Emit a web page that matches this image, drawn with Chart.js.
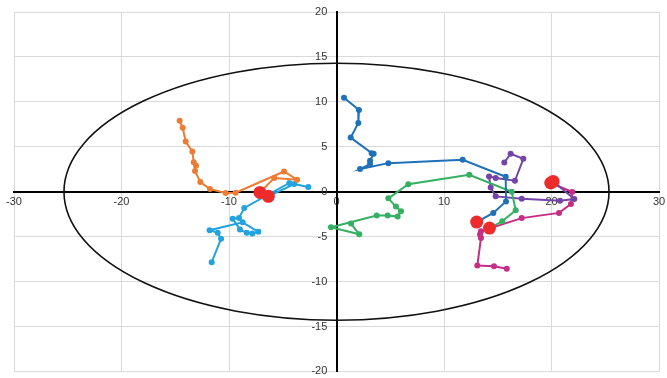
<!DOCTYPE html>
<html>
<head>
<meta charset="utf-8">
<script src="https://cdn.jsdelivr.net/npm/chart.js@4.4.1/dist/chart.umd.min.js"></script>
<style>
html,body{margin:0;padding:0;background:#fff;}
#wrap{width:667px;height:378px;position:relative;}
</style>
</head>
<body>
<div id="wrap"><canvas id="c"></canvas></div>
<script>
// ---- data (x, y) pairs; last point of each trail is the current position ----
const orangeTrail = [[-14.59,7.91],[-14.31,7.13],[-14.03,5.58],[-13.41,4.47],[-13.28,3.29],[-13.07,2.88],[-13.16,2.29],[-12.67,1.08],[-11.77,0.30],[-10.31,-0.14],[-9.38,-0.11],[-4.88,2.25],[-3.67,1.33],[-5.79,1.52],[-7.12,-0.08]];
const lightBlueTrail = [[-11.61,-7.84],[-10.74,-5.25],[-11.05,-4.58],[-11.80,-4.29],[-8.73,-3.41],[-7.27,-4.47],[-7.83,-4.66],[-8.35,-4.58],[-8.98,-4.22],[-9.66,-3.00],[-9.07,-2.92],[-8.58,-1.81],[-4.39,0.97],[-2.62,0.52],[-3.93,0.85],[-6.34,-0.52]];
const darkBlueTrail = [[0.70,10.46],[2.09,9.10],[2.03,7.65],[1.32,6.02],[3.27,4.29],[3.46,4.22],[3.12,3.44],[3.12,3.07],[2.19,2.52],[4.82,3.18],[11.74,3.55],[15.74,1.66],[15.77,-1.08],[14.59,-2.36],[13.04,-3.38]];
const greenTrail = [[1.35,-3.55],[2.12,-4.74],[-0.51,-3.96],[3.74,-2.66],[4.76,-2.66],[5.69,-2.77],[6.00,-2.18],[5.53,-1.66],[4.82,-0.74],[6.68,0.83],[12.35,1.89],[16.30,0.00],[16.67,-2.07],[15.42,-3.29],[14.23,-4.05]];
const purpleTrail = [[15.61,3.25],[16.20,4.22],[17.38,3.66],[16.60,1.22],[14.81,1.52],[14.19,1.70],[14.34,0.48],[14.81,-0.52],[17.23,-0.78],[20.79,-1.00],[22.12,-0.81],[20.15,1.14]];
const magentaTrail = [[15.84,-8.57],[14.65,-8.29],[13.10,-8.21],[13.44,-5.14],[13.35,-4.77],[13.44,-4.41],[17.23,-2.94],[20.70,-2.36],[21.81,-1.37],[21.93,-0.03],[19.93,0.97]];

const xTicks = [-30,-20,-10,0,10,20,30];
const yTicks = [-20,-15,-10,-5,0,5,10,15,20];
const ellipseCenter = [0, 0];
const ellipseRadii = [25.35, 14.3];

const series = [
  {data: orangeTrail, color: '#EC7C34'},
  {data: lightBlueTrail, color: '#22A3DE'},
  {data: darkBlueTrail, color: '#1F71B7'},
  {data: greenTrail, color: '#35B063'},
  {data: purpleTrail, color: '#7444A6'},
  {data: magentaTrail, color: '#C62D86'}
];

const toPts = arr => arr.map(p => ({x: p[0], y: p[1]}));

const datasets = [{
  label: 'current',
  data: series.map(s => { const p = s.data[s.data.length - 1]; return {x: p[0], y: p[1]}; }),
  showLine: false,
  pointRadius: 6.5,
  pointHoverRadius: 6.5,
  pointBackgroundColor: '#EE2B2B',
  pointBorderColor: '#EE2B2B',
  pointBorderWidth: 0,
  order: -1
}].concat(series.map(s => ({
  label: '',
  data: toPts(s.data),
  showLine: true,
  borderColor: s.color,
  backgroundColor: s.color,
  borderWidth: 2,
  pointRadius: 3,
  pointBackgroundColor: s.color,
  pointBorderColor: s.color,
  pointBorderWidth: 0,
  tension: 0
})));

const ellipsePlugin = {
  id: 'ellipse',
  beforeDatasetsDraw(chart) {
    const {ctx, scales: {x, y}} = chart;
    const cx = x.getPixelForValue(ellipseCenter[0]);
    const cy = y.getPixelForValue(ellipseCenter[1]);
    const rx = Math.abs(x.getPixelForValue(ellipseCenter[0] + ellipseRadii[0]) - cx);
    const ry = Math.abs(y.getPixelForValue(ellipseCenter[1] + ellipseRadii[1]) - cy);
    ctx.save();
    ctx.beginPath();
    ctx.ellipse(cx, cy, rx, ry, 0, 0, Math.PI * 2);
    ctx.strokeStyle = '#111';
    ctx.lineWidth = 1.6;
    ctx.stroke();
    ctx.restore();
  }
};

const tickFont = {family: "'Liberation Sans', Arial, sans-serif", size: 11};

new Chart(document.getElementById('c'), {
  type: 'scatter',
  data: {datasets},
  plugins: [ellipsePlugin],
  options: {
    responsive: true,
    maintainAspectRatio: false,
    animation: false,
    layout: {padding: {left: 14, right: 8, top: 12, bottom: 6}},
    plugins: {legend: {display: false}, tooltip: {enabled: false}},
    scales: {
      x: {
        type: 'linear',
        position: {y: 0},
        min: xTicks[0], max: xTicks[xTicks.length - 1],
        afterBuildTicks: axis => { axis.ticks = xTicks.map(v => ({value: v})); },
        grid: {color: '#D9D9D9', lineWidth: 1, drawTicks: true, tickLength: 3, tickColor: 'rgba(0,0,0,0)'},
        border: {display: true, color: '#000', width: 2},
        ticks: {font: tickFont, color: '#333', padding: 1, maxRotation: 0, autoSkip: false}
      },
      y: {
        type: 'linear',
        position: {x: 0},
        min: yTicks[0], max: yTicks[yTicks.length - 1],
        afterBuildTicks: axis => { axis.ticks = yTicks.map(v => ({value: v})); },
        grid: {color: '#D9D9D9', lineWidth: 1, drawTicks: false},
        border: {display: true, color: '#000', width: 2},
        ticks: {font: tickFont, color: '#333', padding: 0, autoSkip: false,
                callback: v => v + '   '}
      }
    }
  }
});
</script>
</body>
</html>
